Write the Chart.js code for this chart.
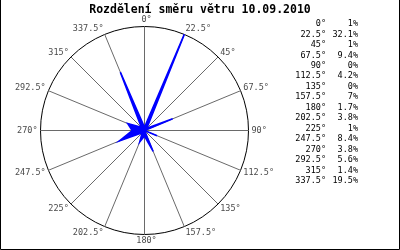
<!DOCTYPE html>
<html lang="cs">
<head>
    <meta charset="UTF-8">
    <title>Rozdělení směru větru</title>
    <script src="https://cdn.jsdelivr.net/npm/chart.js"></script>
    <style>
        body { margin: 0; background: #fff; }
    </style>
</head>
<body>
    <canvas id="windChart" width="400" height="250"></canvas>
    <script>
        // wind direction labels and share of time (%)
        const directions = ['0°', '22.5°', '45°', '67.5°', '90°', '112.5°', '135°', '157.5°',
                            '180°', '202.5°', '225°', '247.5°', '270°', '292.5°', '315°', '337.5°'];
        const percents = [1, 32.1, 1, 9.4, 0, 4.2, 0, 7, 1.7, 3.8, 1, 8.4, 3.8, 5.6, 1.4, 19.5];
        const chartTitle = 'Rozdělení směru větru 10.09.2010';

        const FONT = 'DejaVu Sans Mono';

        // own placement of the rose, so the circle sits where it should
        function placeRose(scale) {
            scale.xCenter = 144.5;
            scale.yCenter = 130.5;
            scale.drawingArea = 104;
        }

        // direction labels round the circle
        const roseLabels = {
            id: 'roseLabels',
            afterDraw(chart) {
                const ctx = chart.ctx;
                const scale = chart.scales.r;
                const R = scale.drawingArea;
                ctx.save();
                ctx.font = '8.5px "' + FONT + '"';
                ctx.fillStyle = '#4a4a4a';
                ctx.textBaseline = 'middle';
                directions.forEach((lbl, i) => {
                    const a = i * Math.PI / 8;
                    const p = scale.getPointPosition(i, R);
                    const s = Math.sin(a), c = Math.cos(a);
                    let x = p.x + s * 3;
                    let y = p.y - c * 6.5;
                    if (Math.abs(s) < 0.01) {
                        ctx.textAlign = 'center';
                        x += 2;
                    } else {
                        ctx.textAlign = s > 0 ? 'left' : 'right';
                    }
                    ctx.fillText(lbl, x, y);
                });
                ctx.restore();
            }
        };

        // value table on the right and the frame
        const sideTable = {
            id: 'sideTable',
            beforeDraw(chart) {
                const ctx = chart.ctx;
                ctx.save();
                ctx.fillStyle = '#fff';
                ctx.fillRect(0, 0, chart.width, chart.height);
                ctx.restore();
            },
            afterDraw(chart) {
                const ctx = chart.ctx;
                ctx.save();
                ctx.font = '8.5px "' + FONT + '"';
                ctx.fillStyle = '#000';
                ctx.textAlign = 'right';
                ctx.textBaseline = 'middle';
                directions.forEach((lbl, i) => {
                    const y = 24 + i * 10.45;
                    ctx.fillText(lbl, 326, y);
                    ctx.fillText(percents[i] + '%', 358, y);
                });
                ctx.strokeStyle = '#000';
                ctx.lineWidth = 1;
                ctx.beginPath();
                ctx.moveTo(0.5, 0);
                ctx.lineTo(0.5, 249.5);
                ctx.lineTo(399.5, 249.5);
                ctx.lineTo(399.5, 0);
                ctx.stroke();
                ctx.restore();
            }
        };

        new Chart(document.getElementById('windChart'), {
            type: 'radar',
            data: {
                labels: directions,
                datasets: [{
                    data: percents,
                    backgroundColor: '#0000ff',
                    borderColor: '#0000ff',
                    borderWidth: 1.6,
                    borderJoinStyle: 'miter',
                    pointRadius: 0,
                    fill: true,
                    tension: 0
                }]
            },
            options: {
                responsive: false,
                animation: false,
                devicePixelRatio: 1,
                layout: { padding: 0 },
                plugins: {
                    legend: { display: false },
                    tooltip: { enabled: false },
                    title: {
                        display: true,
                        text: chartTitle,
                        color: '#000',
                        font: { family: FONT, size: 11.5, weight: 'bold' },
                        padding: { top: 3, bottom: 0 }
                    }
                },
                scales: {
                    r: {
                        min: 0,
                        max: Math.max(...percents),
                        afterFit: placeRose,
                        ticks: { display: false, stepSize: Math.max(...percents) },
                        pointLabels: { display: false },
                        grid: { circular: true, color: '#000', lineWidth: 1 },
                        angleLines: { color: '#6a6a6a', lineWidth: 1 }
                    }
                }
            },
            plugins: [sideTable, roseLabels]
        });
    </script>
</body>
</html>
